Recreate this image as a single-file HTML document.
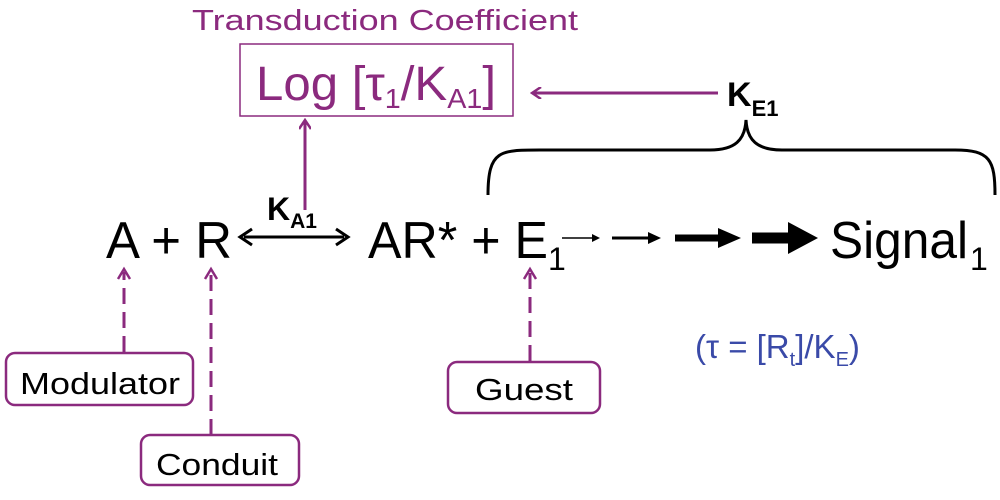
<!DOCTYPE html>
<html><head><style>
body{margin:0;background:#fff}
svg{display:block}
text{font-family:"Liberation Sans","DejaVu Sans",sans-serif}
</style></head><body>
<svg width="1000" height="500" viewBox="0 0 1000 500" xmlns="http://www.w3.org/2000/svg">
<defs>
<marker id="pa" markerWidth="12" markerHeight="12" refX="10" refY="6" orient="auto" markerUnits="userSpaceOnUse"><path d="M1,0 L10,6 L1,12" fill="none" stroke="#8b2a7e" stroke-width="2.5"/></marker>
</defs>
<text x="192" y="30" font-size="29" fill="#8b2a7e" textLength="386" lengthAdjust="spacingAndGlyphs">Transduction Coefficient</text>
<rect x="240" y="44" width="273" height="72" fill="none" stroke="#8b2a7e" stroke-width="1.5"/>
<text x="256" y="100" font-size="48" fill="#8b2a7e" textLength="240" lengthAdjust="spacingAndGlyphs">Log [τ<tspan font-size="28" dy="8">1</tspan><tspan dy="-8">/K</tspan><tspan font-size="28" dy="8">A1</tspan><tspan dy="-8">]</tspan></text>
<line x1="718" y1="93" x2="532" y2="93" stroke="#8b2a7e" stroke-width="3" marker-end="url(#pa)"/>
<text x="727" y="106" font-size="34" font-weight="bold" fill="#000">K<tspan font-size="22" dy="10">E1</tspan></text>
<line x1="305" y1="210" x2="305" y2="120" stroke="#8b2a7e" stroke-width="3" marker-end="url(#pa)"/>
<path d="M488,195 C488,150 500,150 540,150 L710,150 C735,150 745,140 746,120 C747,140 757,150 782,150 L955,150 C990,150 995,160 995,195" fill="none" stroke="#000" stroke-width="3"/>
<text x="267" y="220" font-size="32" font-weight="bold">K<tspan font-size="21" dy="8">A1</tspan></text>
<text x="106" y="258" font-size="52" textLength="126" lengthAdjust="spacingAndGlyphs">A + R</text>
<line x1="244" y1="237" x2="344" y2="237" stroke="#000" stroke-width="3"/>
<path d="M252,229 L240,237 L252,245 M336,229 L348,237 L336,245" fill="none" stroke="#000" stroke-width="3"/>
<text x="368" y="258" font-size="52" textLength="180" lengthAdjust="spacingAndGlyphs">AR* + E</text>
<text x="548" y="270" font-size="32">1</text>
<line x1="562" y1="238" x2="594" y2="238" stroke="#000" stroke-width="1.5"/><path d="M592,234 L600,238 L592,242Z"/>
<line x1="612" y1="238" x2="650" y2="238" stroke="#000" stroke-width="3"/><path d="M648,232 L661,238 L648,244Z"/>
<line x1="675" y1="238" x2="722" y2="238" stroke="#000" stroke-width="7"/><path d="M718,228 L741,238 L718,248Z"/>
<line x1="752" y1="238" x2="792" y2="238" stroke="#000" stroke-width="11"/><path d="M788,222 L818,238 L788,254Z"/>
<text x="830" y="258" font-size="52" textLength="138" lengthAdjust="spacingAndGlyphs">Signal</text>
<text x="970" y="270" font-size="32">1</text>
<g stroke="#8b2a7e" stroke-width="3" stroke-dasharray="16,8" fill="none">
<line x1="124" y1="352" x2="124" y2="272"/>
<line x1="211" y1="435" x2="211" y2="272"/>
<line x1="530" y1="361" x2="530" y2="272"/>
</g>
<g stroke="#8b2a7e" stroke-width="2.5" fill="none">
<path d="M118,279 L124,269 L130,279"/><path d="M205,279 L211,269 L217,279"/><path d="M524,279 L530,269 L536,279"/>
<rect x="6" y="353" width="187" height="52" rx="9"/>
<rect x="141" y="435" width="158" height="50" rx="9"/>
<rect x="448" y="362" width="152" height="51" rx="9"/>
</g>
<text x="20" y="394" font-size="31" textLength="160" lengthAdjust="spacingAndGlyphs">Modulator</text>
<text x="156" y="475" font-size="31" textLength="122" lengthAdjust="spacingAndGlyphs">Conduit</text>
<text x="475" y="400" font-size="31" textLength="98" lengthAdjust="spacingAndGlyphs">Guest</text>
<text x="695" y="358" font-size="33" fill="#3a4aa8">(τ = [R<tspan font-size="20" dy="8">t</tspan><tspan dy="-8">]/K</tspan><tspan font-size="20" dy="8">E</tspan><tspan dy="-8">)</tspan></text>
</svg>
</body></html>
